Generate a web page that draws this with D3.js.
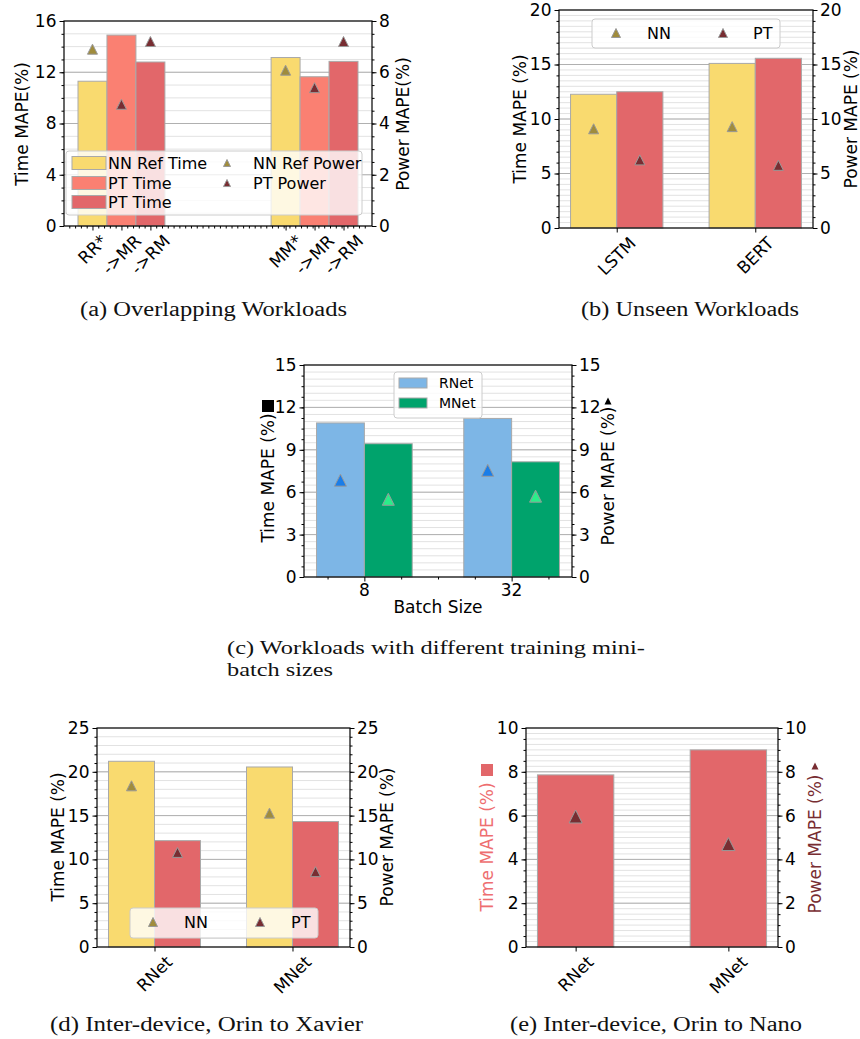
<!DOCTYPE html>
<html><head><meta charset="utf-8">
<script src="https://cdn.jsdelivr.net/npm/d3@7"></script>
<style>body{margin:0;background:#fff} svg{display:block}</style>
</head><body>
<svg id="fig" width="860" height="1039"></svg>
<script>
// ---------------- DATA ----------------
// (a) Overlapping Workloads
const aGroups = ["RR", "MM"];
const aTickLabels = [["RR*", "->MR", "->RM"], ["MM*", "->MR", "->RM"]];
const aNNRefTime = [11.3, 13.15];
const aPTTimeMR = [14.9, 11.65];
const aPTTimeRM = [12.8, 12.85];
const aNNRefPower = [6.9, 6.08];
const aPTPowerMR = [4.75, 5.4];
const aPTPowerRM = [7.2, 7.2];
const aYTicks = [0, 4, 8, 12, 16];
const aYRTicks = [0, 2, 4, 6, 8];

// (b) Unseen Workloads
const bCategories = ["LSTM", "BERT"];
const bNNTime = [12.27, 15.1];
const bPTTime = [12.5, 15.57];
const bNNPower = [9.1, 9.3];
const bPTPower = [6.25, 5.75];
const bYTicks = [0, 5, 10, 15, 20];

// (c) Different mini-batch sizes
const cCategories = ["8", "32"];
const cRNetTime = [10.9, 11.22];
const cMNetTime = [9.43, 8.15];
const cRNetPower = [6.85, 7.55];
const cMNetPower = [5.5, 5.72];
const cYTicks = [0, 3, 6, 9, 12, 15];

// (d) Orin to Xavier
const dCategories = ["RNet", "MNet"];
const dNNTime = [21.2, 20.55];
const dPTTime = [12.14, 14.32];
const dNNPower = [18.4, 15.28];
const dPTPower = [10.8, 8.6];
const dYTicks = [0, 5, 10, 15, 20, 25];

// (e) Orin to Nano
const eCategories = ["RNet", "MNet"];
const eTime = [7.86, 9.0];
const ePower = [5.96, 4.7];
const eYTicks = [0, 2, 4, 6, 8, 10];

// ---------------- STYLE ----------------
const FONT = "DejaVu Sans, sans-serif";
const SERIF = "Liberation Serif, DejaVu Serif, serif";
const C = {
  yellow: "#f9da6f", salmon: "#fa8072", red: "#e2676a",
  olive: "#a08c3c", maroon: "#782d32",
  blueBar: "#7db6e6", greenBar: "#00a36c", blueTri: "#1a7de8", greenTri: "#2aee8a",
  edge: "#a9a9a9", grid: "#b0b0b0", gridMinor: "#e2e2e2"
};
const svg = d3.select("#fig");

function frame(cfg) {
  const g = svg.append("g");
  const x = d3.scaleLinear().domain(cfg.xDomain).range([cfg.L, cfg.R]);
  const y = d3.scaleLinear().domain([0, cfg.yTicks[cfg.yTicks.length - 1]]).range([cfg.B, cfg.T]);
  const yR = d3.scaleLinear().domain([0, cfg.yRTicks[cfg.yRTicks.length - 1]]).range([cfg.B, cfg.T]);
  const gm = d3.range(0, y.domain()[1] + 1e-9, cfg.gridMinor);
  g.append("g").selectAll("line").data(gm).join("line")
    .attr("x1", cfg.L).attr("x2", cfg.R).attr("y1", d => y(d)).attr("y2", d => y(d))
    .attr("stroke", C.gridMinor).attr("stroke-width", 1);
  g.append("g").selectAll("line").data(cfg.yTicks.slice(1, -1)).join("line")
    .attr("x1", cfg.L).attr("x2", cfg.R).attr("y1", d => y(d)).attr("y2", d => y(d))
    .attr("stroke", C.grid).attr("stroke-width", 1);
  return { g, x, y, yR, cfg };
}

function styleAxis(sel, fs) {
  sel.select(".domain").remove();
  sel.selectAll("line").attr("stroke", "#000").attr("stroke-width", 1);
  sel.selectAll("text").attr("font-family", FONT).attr("font-size", fs).attr("fill", "#000");
}

function decor(ax) {
  const { g, x, y, yR, cfg } = ax;
  const fs = 17;
  const la = g.append("g").attr("transform", `translate(${cfg.L},0)`)
    .call(d3.axisLeft(y).tickValues(cfg.yTicks).tickSize(4.5).tickPadding(3).tickFormat(d3.format("d")));
  styleAxis(la, fs);
  const lm = g.append("g").attr("transform", `translate(${cfg.L},0)`)
    .call(d3.axisLeft(y).tickValues(d3.range(0, y.domain()[1] + 1e-9, cfg.yMinor)).tickSize(2.5).tickFormat(""));
  styleAxis(lm, fs);
  const ra = g.append("g").attr("transform", `translate(${cfg.R},0)`)
    .call(d3.axisRight(yR).tickValues(cfg.yRTicks).tickSize(4.5).tickPadding(2.5).tickFormat(d3.format("d")));
  styleAxis(ra, fs);
  const rm = g.append("g").attr("transform", `translate(${cfg.R},0)`)
    .call(d3.axisRight(yR).tickValues(d3.range(0, yR.domain()[1] + 1e-9, cfg.yRMinor)).tickSize(2.5).tickFormat(""));
  styleAxis(rm, fs);
  const ba = g.append("g").attr("transform", `translate(0,${cfg.B})`)
    .call(d3.axisBottom(x).tickValues(cfg.xTicks).tickSize(4.5).tickFormat(""));
  styleAxis(ba, fs);
  if (cfg.xMinor) {
    const bm = g.append("g").attr("transform", `translate(0,${cfg.B})`)
      .call(d3.axisBottom(x).tickValues(cfg.xMinor).tickSize(2.5).tickFormat(""));
    styleAxis(bm, fs);
  }
  g.append("rect").attr("x", cfg.L).attr("y", cfg.T).attr("width", cfg.R - cfg.L).attr("height", cfg.B - cfg.T)
    .attr("fill", "none").attr("stroke", "#000").attr("stroke-width", 1.2);
}

function bars(ax, centers, values, width, color) {
  ax.g.append("g").selectAll("rect").data(values).join("rect")
    .attr("x", (d, i) => ax.x(centers[i] - width / 2))
    .attr("width", (d, i) => ax.x(centers[i] + width / 2) - ax.x(centers[i] - width / 2))
    .attr("y", d => ax.y(d)).attr("height", d => ax.y(0) - ax.y(d))
    .attr("fill", color).attr("stroke", C.edge).attr("stroke-width", 1);
}
function triPath(s) { return `M0,${-s}L${s},${s}L${-s},${s}Z`; }
function tris(ax, centers, values, color, s) {
  ax.g.append("g").selectAll("path").data(values).join("path")
    .attr("d", triPath(s))
    .attr("transform", (d, i) => `translate(${ax.x(centers[i])},${ax.yR(d)})`)
    .attr("fill", color).attr("stroke", "#999").attr("stroke-width", 1);
}
function rotLabels(ax, ticks, labels, fs) {
  ticks.forEach((t, i) => {
    const tx = ax.g.append("text").text(labels[i]).attr("font-family", FONT).attr("font-size", fs)
      .attr("text-anchor", "middle").attr("dominant-baseline", "central");
    const len = tx.node().getComputedTextLength();
    const half = (len + fs) * Math.SQRT1_2 / 2;
    tx.attr("transform", `translate(${ax.x(t)},${ax.cfg.B + 6 + half}) rotate(-45)`);
  });
}
function ytitle(x, y, text, color, fs) {
  svg.append("text").text(text).attr("font-family", FONT).attr("font-size", fs || 17)
    .attr("fill", color || "#000").attr("text-anchor", "middle").attr("dominant-baseline", "central")
    .attr("transform", `translate(${x},${y}) rotate(-90)`);
}
function legendBox(x0, y0, x1, y1) {
  svg.append("rect").attr("x", x0).attr("y", y0).attr("width", x1 - x0).attr("height", y1 - y0)
    .attr("rx", 3).attr("fill", "#fff").attr("fill-opacity", 0.8).attr("stroke", "#cccccc").attr("stroke-width", 1);
}
function legText(x, y, t, fs) {
  svg.append("text").text(t).attr("x", x).attr("y", y).attr("font-family", FONT).attr("font-size", fs)
    .attr("dominant-baseline", "central");
}
function legPatch(x, y, w, h, color) {
  svg.append("rect").attr("x", x).attr("y", y - h / 2).attr("width", w).attr("height", h)
    .attr("fill", color).attr("stroke", C.edge).attr("stroke-width", 1);
}
function legTri(x, y, s, color) {
  svg.append("path").attr("d", triPath(s)).attr("transform", `translate(${x},${y})`)
    .attr("fill", color).attr("stroke", "#999").attr("stroke-width", 1);
}
function caption(lines, x0, x1, baselines, fs) {
  lines.forEach((t, i) => {
    const el = svg.append("text").text(t).attr("x", x0).attr("y", baselines[i])
      .attr("font-family", SERIF).attr("font-size", fs || 20.5).attr("fill", "#111");
    if (x1[i]) el.attr("textLength", x1[i] - x0).attr("lengthAdjust", "spacingAndGlyphs");
  });
}

// ---------------- PANEL (a) ----------------
{
  const off = [-0.15, 0, 0.15];
  const xT = [];
  aGroups.forEach((g, i) => off.forEach(o => xT.push(i + o)));
  const minor = d3.range(-9, 43).map(k => +(k * 0.03).toFixed(4)).filter(v => !xT.some(t => Math.abs(t - v) < 1e-6));
  const ax = frame({ L: 64, R: 372, T: 21, B: 226, xDomain: [-0.2975, 1.2975],
    yTicks: aYTicks, yRTicks: aYRTicks, yMinor: 1, yRMinor: 0.5, gridMinor: 1, xTicks: xT, xMinor: minor });
  const idx = aGroups.map((g, i) => i);
  bars(ax, idx.map(i => i - 0.15), aNNRefTime, 0.15, C.yellow);
  bars(ax, idx.map(i => i), aPTTimeMR, 0.15, C.salmon);
  bars(ax, idx.map(i => i + 0.15), aPTTimeRM, 0.15, C.red);
  tris(ax, idx.map(i => i - 0.15), aNNRefPower, C.olive, 5);
  tris(ax, idx.map(i => i), aPTPowerMR, C.maroon, 5);
  tris(ax, idx.map(i => i + 0.15), aPTPowerRM, C.maroon, 5);
  decor(ax);
  rotLabels(ax, xT, aTickLabels.flat(), 17);
  ytitle(22, 124, "Time MAPE(%)");
  ytitle(403, 124, "Power MAPE(%)");
  legendBox(66, 151, 362, 215);
  legPatch(72, 163, 34, 13, C.yellow); legText(108, 163, "NN Ref Time", 16);
  legPatch(72, 183, 34, 13, C.salmon); legText(108, 183, "PT Time", 16);
  legPatch(72, 202, 34, 13, C.red); legText(108, 202, "PT Time", 16);
  legTri(227, 163, 3.5, C.olive); legText(253, 163, "NN Ref Power", 16);
  legTri(227, 183, 3.5, C.maroon); legText(253, 183, "PT Power", 16);
}

// ---------------- PANEL (b) ----------------
{
  const idx = bCategories.map((c, i) => i);
  const ax = frame({ L: 559, R: 813, T: 10, B: 228, xDomain: [-0.4167, 1.4167],
    yTicks: bYTicks, yRTicks: bYTicks, yMinor: 1, yRMinor: 1, gridMinor: 0.5, xTicks: idx });
  const w = 1 / 3;
  bars(ax, idx.map(i => i - w / 2), bNNTime, w, C.yellow);
  bars(ax, idx.map(i => i + w / 2), bPTTime, w, C.red);
  tris(ax, idx.map(i => i - w / 2), bNNPower, C.olive, 5);
  tris(ax, idx.map(i => i + w / 2), bPTPower, C.maroon, 5);
  decor(ax);
  rotLabels(ax, idx, bCategories, 17);
  ytitle(520, 119, "Time MAPE (%)");
  ytitle(851, 119, "Power MAPE (%)");
  legendBox(592, 19, 780, 48);
  legTri(616, 33, 4.5, C.olive); legText(647, 33, "NN", 16);
  legTri(723, 33, 4.5, C.maroon); legText(753, 33, "PT", 16);
}

// ---------------- PANEL (c) ----------------
{
  const idx = cCategories.map((c, i) => i);
  const ax = frame({ L: 304, R: 572, T: 365, B: 577, xDomain: [-0.41, 1.41],
    yTicks: cYTicks, yRTicks: cYTicks, yMinor: 0.75, yRMinor: 0.75, gridMinor: 0.5, xTicks: idx,
    xMinor: [-0.25, 0.25, 0.5, 0.75, 1.25] });
  const w = 0.325;
  bars(ax, idx.map(i => i - w / 2), cRNetTime, w, C.blueBar);
  bars(ax, idx.map(i => i + w / 2), cMNetTime, w, C.greenBar);
  tris(ax, idx.map(i => i - w / 2), cRNetPower, C.blueTri, 6);
  tris(ax, idx.map(i => i + w / 2), cMNetPower, C.greenTri, 6);
  decor(ax);
  cCategories.forEach((c, i) => {
    svg.append("text").text(c).attr("x", ax.x(i)).attr("y", 590).attr("font-family", FONT).attr("font-size", 17)
      .attr("text-anchor", "middle").attr("dominant-baseline", "central");
  });
  svg.append("text").text("Batch Size").attr("x", (304 + 572) / 2).attr("y", 607).attr("font-family", FONT)
    .attr("font-size", 17).attr("text-anchor", "middle").attr("dominant-baseline", "central");
  ytitle(268, 478, "Time MAPE (%)");
  svg.append("rect").attr("x", 262).attr("y", 400).attr("width", 12).attr("height", 12).attr("fill", "#000");
  ytitle(608, 476, "Power MAPE (%)");
  svg.append("path").attr("d", triPath(3.5)).attr("transform", "translate(608,401)").attr("fill", "#000");
  legendBox(394, 372, 482, 418);
  legPatch(399, 383, 28, 10, C.blueBar); legText(439, 383, "RNet", 14);
  legPatch(399, 403, 28, 10, C.greenBar); legText(439, 403, "MNet", 14);
}

// ---------------- PANEL (d) ----------------
{
  const idx = dCategories.map((c, i) => i);
  const ax = frame({ L: 97, R: 350, T: 728, B: 947, xDomain: [-0.4167, 1.4167],
    yTicks: dYTicks, yRTicks: dYTicks, yMinor: 1, yRMinor: 1, gridMinor: 1, xTicks: idx });
  const w = 1 / 3;
  bars(ax, idx.map(i => i - w / 2), dNNTime, w, C.yellow);
  bars(ax, idx.map(i => i + w / 2), dPTTime, w, C.red);
  tris(ax, idx.map(i => i - w / 2), dNNPower, C.olive, 5);
  tris(ax, idx.map(i => i + w / 2), dPTPower, C.maroon, 5);
  decor(ax);
  rotLabels(ax, idx, dCategories, 17);
  ytitle(58, 837, "Time MAPE (%)");
  ytitle(387, 837, "Power MAPE (%)");
  legendBox(130, 908, 318, 938);
  legTri(153, 922, 4.5, C.olive); legText(184, 922, "NN", 16);
  legTri(260, 922, 4.5, C.maroon); legText(291, 922, "PT", 16);
}

// ---------------- PANEL (e) ----------------
{
  const idx = eCategories.map((c, i) => i);
  const ax = frame({ L: 526, R: 778, T: 728, B: 947, xDomain: [-0.325, 1.325],
    yTicks: eYTicks, yRTicks: eYTicks, yMinor: 0.5, yRMinor: 0.5, gridMinor: 0.25, xTicks: idx });
  bars(ax, idx, eTime, 0.5, C.red);
  tris(ax, idx, ePower, C.maroon, 6.5);
  decor(ax);
  rotLabels(ax, idx, eCategories, 17);
  ytitle(487, 847, "Time MAPE (%)", "#ee6e70");
  svg.append("rect").attr("x", 481).attr("y", 764).attr("width", 12).attr("height", 12).attr("fill", C.red);
  ytitle(815, 844, "Power MAPE (%)", C.maroon);
  svg.append("path").attr("d", triPath(3.5)).attr("transform", "translate(815,766)").attr("fill", C.maroon);
}

// ---------------- CAPTIONS ----------------
caption(["(a) Overlapping Workloads"], 80, [347], [316]);
caption(["(b) Unseen Workloads"], 581, [799], [316]);
caption(["(c) Workloads with different training mini-", "batch sizes"], 227, [645, 333], [654, 676], 18.5);
caption(["(d) Inter-device, Orin to Xavier"], 50, [363], [1031]);
caption(["(e) Inter-device, Orin to Nano"], 510, [802], [1031]);
</script>
</body></html>
